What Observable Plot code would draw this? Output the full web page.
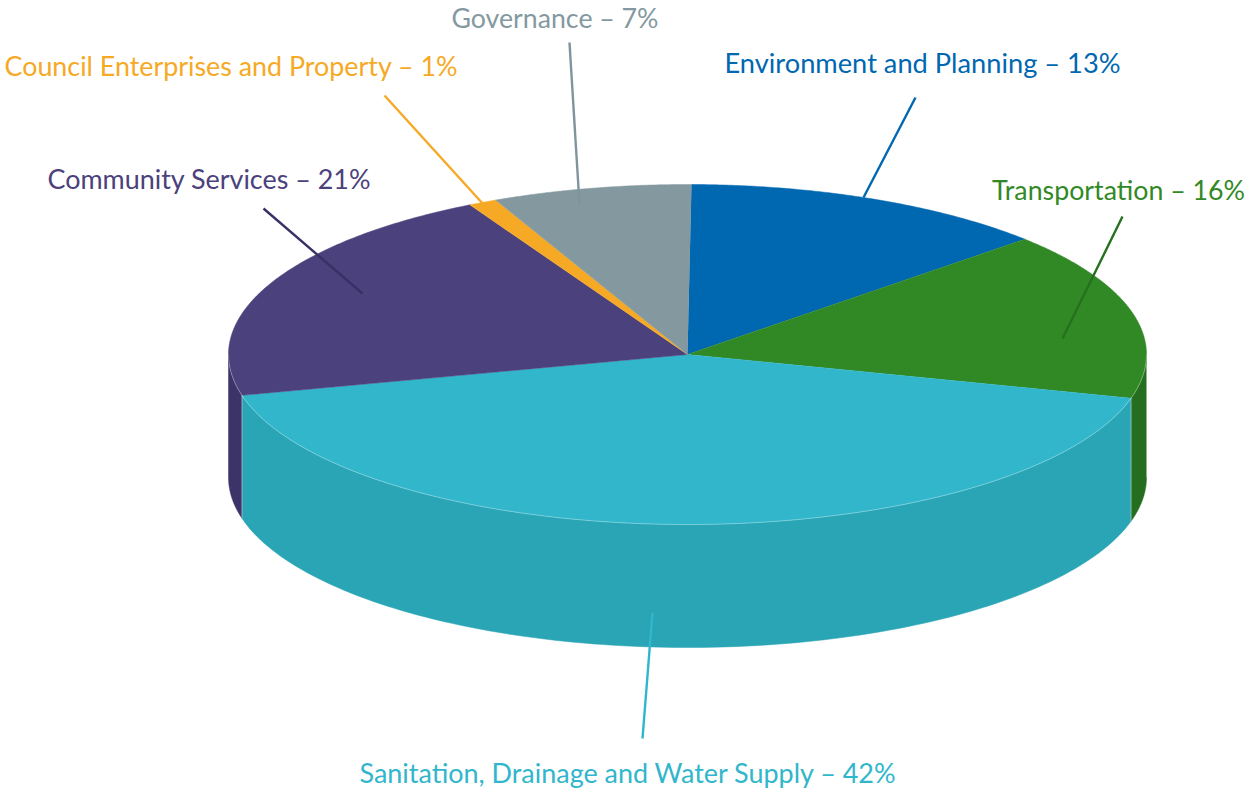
<!DOCTYPE html>
<html>
<head>
<meta charset="utf-8">
<script src="https://cdn.jsdelivr.net/npm/d3@7"></script>
<script src="https://cdn.jsdelivr.net/npm/@observablehq/plot@0.6"></script>
<style>
  html, body { margin: 0; background: #fff; }
  svg { display: block; }
</style>
</head>
<body>
<div id="chart"></div>
<script>
// Budget shares, clockwise from the top of the disc
const categories = [
  "Environment and Planning",
  "Transportation",
  "Sanitation, Drainage and Water Supply",
  "Community Services",
  "Council Enterprises and Property",
  "Governance"
];
const shares = [13, 16, 42, 21, 1, 7];

// Slice colours: top face, side wall, caption and leader
const topColours = ["#0067b1", "#318926", "#31b6cb", "#4b417c", "#f6a924", "#84999f"];
const wallColours = ["#00558f", "#256e1f", "#2aa5b5", "#3c3368", "#c98a1c", "#6c7f85"];
const leaderColours = ["#0067b1", "#27701f", "#31b6cb", "#3b2f66", "#f6a924", "#7f949c"];

// Caption centres, baselines and fitted widths
const captionX = [922, 1118, 627, 208.5, 230.5, 554.5];
const captionY = [72, 199, 782, 188, 75, 27];
const captionWidth = [396, 253, 536, 323, 453, 207];

// Leader line ends
const leaderStartX = [915, 1122, 642, 263, 384, 569];
const leaderStartY = [97, 216, 738, 208, 95, 42];
const leaderEndX = [863, 1062, 652, 362, 483, 579];
const leaderEndY = [197, 338, 612, 293, 204, 204];

// Projected disc: centre, semi-axes, wall depth and where the first slice begins
const cx = 687, cy = 354, rx = 459, ry = 170, depth = 123;
const startAngle = 0.5;

const rad = (a) => (a * Math.PI) / 180;
const rimPoint = (a, drop = 0) => ({
  x: cx + rx * Math.sin(rad(a)),
  y: cy + drop - ry * Math.cos(rad(a))
});
const arc = (a0, a1, drop = 0) =>
  d3.range(0, 1.0001, 1 / 120).map((t) => rimPoint(a0 + (a1 - a0) * t, drop));

// Angular extent of each slice, taken from its share
const total = d3.sum(shares);
const cumulative = d3.cumsum(shares);
const slices = categories.map((name, i) => ({
  name,
  a0: startAngle + ((cumulative[i] - shares[i]) / total) * 360,
  a1: startAngle + (cumulative[i] / total) * 360,
  top: topColours[i],
  wall: wallColours[i]
}));

// Only the part of the rim facing the viewer shows a wall
const walls = slices
  .map((s) => ({ ...s, from: Math.max(s.a0, 90), to: Math.min(s.a1, 270) }))
  .filter((s) => s.to > s.from);

const wallMarks = walls.map((s) =>
  Plot.line(
    [...arc(s.from, s.to), ...arc(s.to, s.from, depth)],
    { x: "x", y: "y", fill: s.wall, stroke: s.wall, strokeWidth: 0.5 }
  )
);
const topMarks = slices.map((s) =>
  Plot.line(
    [{ x: cx, y: cy }, ...arc(s.a0, s.a1)],
    { x: "x", y: "y", fill: s.top, stroke: s.top, strokeWidth: 0.5 }
  )
);

// Pale seam along the front edge of the disc and the visible wall corners
const seamMarks = [
  Plot.line(arc(90, 270), {
    x: "x", y: "y", stroke: "#ffffff", strokeOpacity: 0.4, strokeWidth: 0.8
  }),
  ...walls
    .filter((s) => s.to < 270)
    .map((s) =>
      Plot.line([rimPoint(s.to), rimPoint(s.to, depth)], {
        x: "x", y: "y", stroke: "#ffffff", strokeOpacity: 0.5, strokeWidth: 0.8
      })
    )
];

const leaders = categories.map((name, i) => ({
  name,
  x1: leaderStartX[i], y1: leaderStartY[i],
  x2: leaderEndX[i], y2: leaderEndY[i],
  colour: leaderColours[i]
}));
const captions = categories.map((name, i) => ({
  label: `${name} – ${shares[i]}%`,
  x: captionX[i], y: captionY[i],
  colour: topColours[i]
}));

const chart = Plot.plot({
  width: 1246,
  height: 789,
  margin: 0,
  style: { background: "#fff" },
  x: { domain: [0, 1246], range: [0, 1246], axis: null },
  y: { domain: [0, 789], range: [0, 789], axis: null },
  marks: [
    ...wallMarks,
    ...topMarks,
    ...seamMarks,
    ...leaders.map((d) =>
      Plot.link([d], {
        x1: "x1", y1: "y1", x2: "x2", y2: "y2",
        stroke: d.colour, strokeWidth: 2.4, strokeLinecap: "butt"
      })
    ),
    ...captions.map((d) =>
      Plot.text([d], {
        x: "x", y: "y", text: "label",
        fill: d.colour,
        fontFamily: "Lato, sans-serif",
        fontSize: 27,
        textAnchor: "middle",
        lineAnchor: "bottom",
        className: "caption"
      })
    )
  ]
});

// Fit each caption to its measured width, condensing the glyphs slightly
d3.select(chart).selectAll("g.caption text").each(function () {
  const idx = captions.findIndex((c) => c.label === this.textContent);
  if (idx >= 0) {
    d3.select(this)
      .attr("textLength", captionWidth[idx])
      .attr("lengthAdjust", "spacingAndGlyphs");
  }
});

document.getElementById("chart").append(chart);
</script>
</body>
</html>
